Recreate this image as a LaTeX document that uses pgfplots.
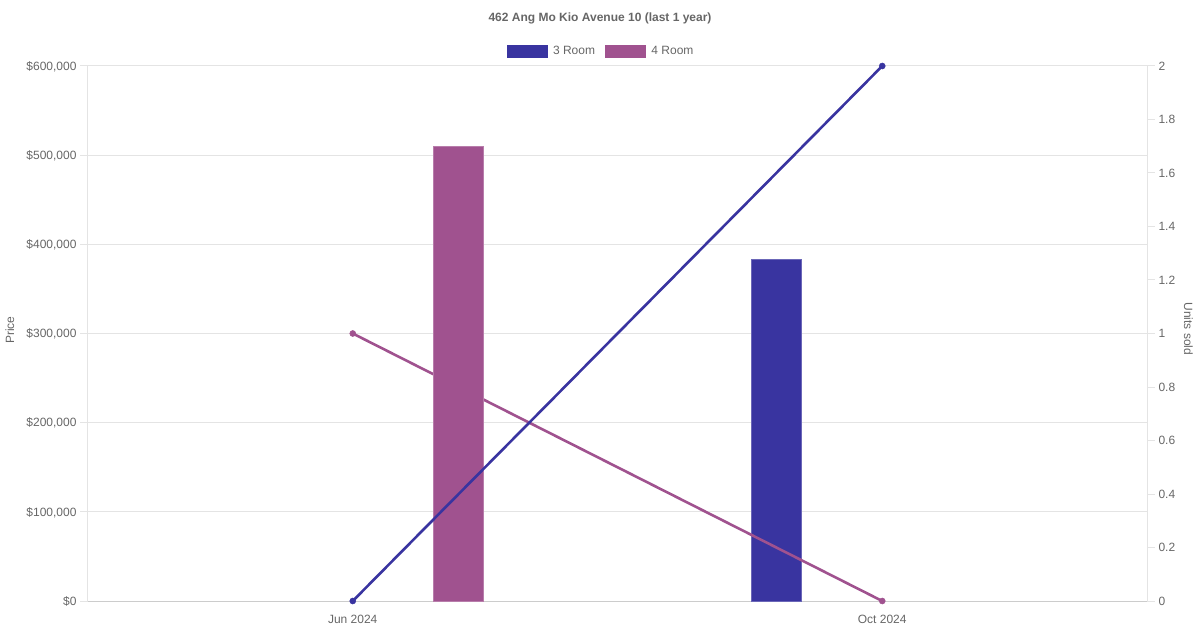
\documentclass[border=0pt]{standalone}
\usepackage{pgfplots}
\pgfplotsset{compat=1.18}
\usepackage{fontspec}
\setmainfont{Liberation Sans}

\definecolor{room3}{HTML}{3934A0}
\definecolor{room4}{HTML}{A0528F}
\definecolor{txt}{HTML}{666666}
\definecolor{gridc}{HTML}{E4E4E4}
\definecolor{basec}{HTML}{CCCCCC}

% common geometry: 1pt = 1px of the reference
\pgfplotsset{
  base/.style={
    at={(88pt,29pt)}, anchor=south west,
    scale only axis, width=1059pt, height=535pt,
    xmin=-0.5, xmax=1.5,
    font=\fontsize{12}{14}\selectfont,
    /pgf/number format/assume math mode=true,
    tick label style={text=txt},
    label style={text=txt},
  },
}

\begin{document}
\begin{tikzpicture}
\useasboundingbox (0,0) rectangle (1200pt,630pt);

% price axis, 3 Room bar
\begin{axis}[base,
    ymin=0, ymax=600000,
    axis x line*=bottom, axis y line*=left,
    x axis line style={basec, line width=1pt},
    y axis line style={gridc, line width=1pt},
    scaled y ticks=false,
    ytick={0,100000,200000,300000,400000,500000,600000},
    yticklabels={{\$0},{\$100,000},{\$200,000},{\$300,000},{\$400,000},{\$500,000},{\$600,000}},
    yticklabel style={anchor=base east, yshift=-4.3pt},
    ymajorgrids, grid style={gridc, line width=1pt},
    tick align=outside, major tick length=8pt,
    ytick style={gridc, line width=1pt},
    xtick={0,1}, xticklabels={Jun 2024, Oct 2024},
    xtick style={draw=none},
    xticklabel style={anchor=center, yshift=-10pt},
    ylabel=Price,
    ylabel style={at={(axis description cs:-0.0737,0.5065)}, anchor=center},
    title={462 Ang Mo Kio Avenue 10 (last 1 year)},
    title style={at={(axis description cs:0.4835,1.0916)}, anchor=center, yshift=-7pt,
      font=\bfseries\fontsize{12}{14}\selectfont, text=txt},
    legend columns=2,
    legend style={draw=none, fill=none, at={(axis description cs:0.4835,1.028)},
      anchor=center, text=txt, inner sep=0pt, nodes={inner sep=0pt},
      /tikz/every even column/.append style={column sep=10pt}},
  ]
  \addplot[ybar, bar width=50pt, bar shift=-106pt, fill=room3,
    draw=room3!75!white, line width=1pt, forget plot]
    coordinates {(1,383000)};
  \addlegendimage{legend image code/.code={
      \fill[room3] (0pt,-6pt) rectangle (40pt,6pt); \path (46pt,0pt);}}
  \addlegendentry{3 Room}
  \addlegendimage{legend image code/.code={
      \fill[room4] (0pt,-6pt) rectangle (40pt,6pt); \path (46pt,0pt);}}
  \addlegendentry{4 Room}
\end{axis}

% units axis, 4 Room line
\begin{axis}[base,
    ymin=0, ymax=2,
    axis y line*=right, axis x line=none,
    y axis line style={gridc, line width=1pt},
    ytick={0,0.2,0.4,0.6,0.8,1,1.2,1.4,1.6,1.8,2},
    yticklabels={0,0.2,0.4,0.6,0.8,1,1.2,1.4,1.6,1.8,2},
    yticklabel style={anchor=base west, yshift=-4.3pt},
    tick align=outside, major tick length=8pt,
    ytick style={gridc, line width=1pt},
    ylabel=Units sold,
    ylabel style={at={(axis description cs:1.039,0.5084)}, anchor=center, rotate=180},
    clip=false,
  ]
  \addplot[room4, line width=2.6pt, mark=*, mark size=3pt,
    mark options={fill=room4, line width=0.5pt}]
    coordinates {(0,1) (1,0)};
\end{axis}

% price axis, 4 Room bar
\begin{axis}[base, ymin=0, ymax=600000, hide axis]
  \addplot[ybar, bar width=50pt, bar shift=106pt, fill=room4,
    draw=room4!75!white, line width=1pt]
    coordinates {(0,510000)};
\end{axis}

% units axis, 3 Room line
\begin{axis}[base, ymin=0, ymax=2, hide axis, clip=false]
  \addplot[room3, line width=2.6pt, mark=*, mark size=3pt,
    mark options={fill=room3, line width=0.5pt}]
    coordinates {(0,0) (1,2)};
\end{axis}
\end{tikzpicture}
\end{document}
